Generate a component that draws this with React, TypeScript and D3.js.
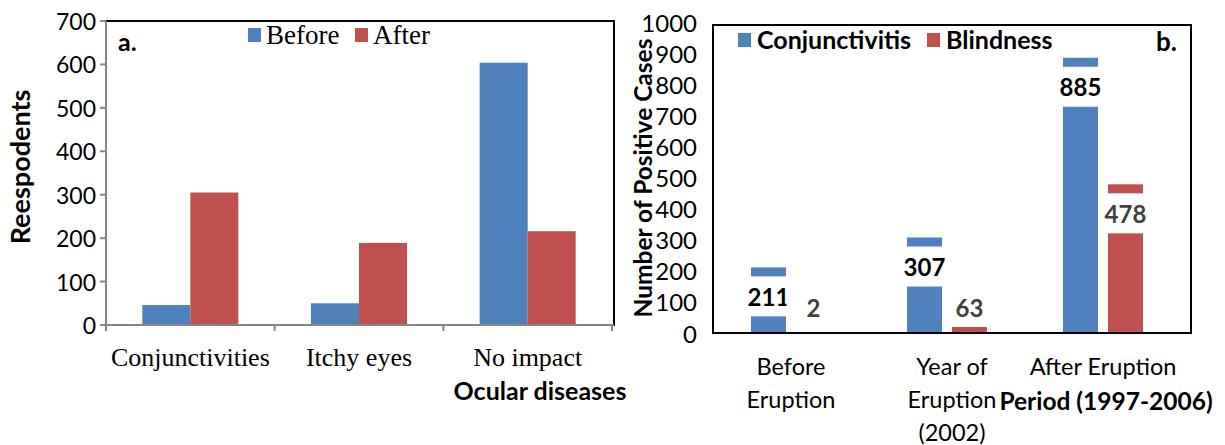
import React from "react";
import * as d3 from "d3";

const diseaseCats = ["Conjunctivities", "Itchy eyes", "No impact"];
const seriesA = ["Before", "After"];
const beforeVals = [46, 50, 604];
const afterVals = [305, 189, 216];
const ticksA = [0, 100, 200, 300, 400, 500, 600, 700];

const periodCats = ["Before Eruption", "Year of Eruption (2002)", "After Eruption"];
const periodLines = [["Before", "Eruption"], ["Year of", "Eruption", "(2002)"], ["After Eruption"]];
const seriesB = ["Conjunctivitis", "Blindness"];
const conjVals = [211, 307, 885];
const blindVals = [2, 63, 478];
const ticksB = [0, 100, 200, 300, 400, 500, 600, 700, 800, 900, 1000];

const BLUE = "#4F81BD";
const RED = "#C0504D";
const SANS = "Lato, 'Noto Sans', sans-serif";
const SERIF = "'Liberation Serif', 'Times New Roman', serif";

export default function App() {
  // Panel a
  const yA = d3.scaleLinear().domain([0, 700]).range([325, 21]);
  const x0A = d3.scaleBand().domain(diseaseCats).range([106, 612]).paddingInner(0).paddingOuter(0);
  const x1A = d3.scaleBand().domain(seriesA).range([0, x0A.bandwidth()]).paddingInner(0).paddingOuter(0.757);
  const valsA: Record<string, number[]> = { Before: beforeVals, After: afterVals };
  const colA: Record<string, string> = { Before: BLUE, After: RED };

  // Panel b
  const yB = d3.scaleLinear().domain([0, 1000]).range([333, 22]);
  const x0B = d3.scaleBand().domain(periodCats).range([713, 1181]).paddingInner(0).paddingOuter(0);
  const x1B = d3.scaleBand().domain(seriesB).range([0, x0B.bandwidth()]).paddingInner(0.222).paddingOuter(0.844);
  const valsB: Record<string, number[]> = { Conjunctivitis: conjVals, Blindness: blindVals };
  const colB: Record<string, string> = { Conjunctivitis: BLUE, Blindness: RED };
  const labCol: Record<string, string> = { Conjunctivitis: "#000", Blindness: "#404040" };

  const boundaries = [...diseaseCats.map((c) => x0A(c)!), 612];

  return (
    <svg width={1225} height={445} style={{ position: "absolute", left: 0, top: 0, background: "#fff" }}>
      <rect x={0} y={0} width={1225} height={445} fill="#fff" />
      {/* ===== Panel a ===== */}
      <line x1={106} y1={21} x2={614} y2={21} stroke="#000" strokeWidth={2} />
      <line x1={614} y1={20} x2={614} y2={326} stroke="#000" strokeWidth={2} />
      {seriesA.map((s) =>
        diseaseCats.map((c, i) => (
          <rect key={s + c} x={x0A(c)! + x1A(s)!} y={yA(valsA[s][i])} width={x1A.bandwidth()}
            height={yA(0) - yA(valsA[s][i])} fill={colA[s]} />
        ))
      )}
      <line x1={106} y1={21} x2={106} y2={326} stroke="#868686" strokeWidth={2} />
      {ticksA.map((t) => (
        <g key={t}>
          <line x1={100} x2={106} y1={yA(t)} y2={yA(t)} stroke="#868686" strokeWidth={2} />
          <text x={96} y={yA(t)} textAnchor="end" dominantBaseline="central" fontFamily={SANS} fontSize={23} fill="#000">{t}</text>
        </g>
      ))}
      <line x1={106} y1={325} x2={614} y2={325} stroke="#868686" strokeWidth={2} />
      {boundaries.map((b, i) => (
        <line key={i} x1={b} x2={b} y1={325} y2={331} stroke="#868686" strokeWidth={2} />
      ))}
      {diseaseCats.map((c) => (
        <text key={c} x={x0A(c)! + x0A.bandwidth() / 2} y={366} textAnchor="middle" fontFamily={SERIF} fontSize={26} fill="#000">{c}</text>
      ))}
      <text x={540} y={400} textAnchor="middle" fontFamily={SANS} fontWeight="bold" fontSize={25} fill="#000">Ocular diseases</text>
      <text transform={`translate(30,167) rotate(-90)`} textAnchor="middle" fontFamily={SANS} fontWeight="bold" fontSize={27} fill="#000">Reespodents</text>
      <text x={118} y={51} fontFamily={SANS} fontWeight="bold" fontSize={25} fill="#000">a.</text>
      <rect x={248} y={28} width={13} height={14} fill={BLUE} />
      <text x={266} y={44} fontFamily={SERIF} fontSize={27} fill="#000">Before</text>
      <rect x={355} y={28} width={13} height={14} fill={RED} />
      <text x={373} y={44} fontFamily={SERIF} fontSize={27} fill="#000">After</text>

      {/* ===== Panel b ===== */}
      {seriesB.map((s) =>
        periodCats.map((c, i) => (
          <rect key={s + c} x={x0B(c)! + x1B(s)!} y={yB(valsB[s][i])} width={x1B.bandwidth()}
            height={yB(0) - yB(valsB[s][i])} fill={colB[s]} />
        ))
      )}
      {seriesB.map((s) =>
        periodCats.map((c, i) => {
          const cx = x0B(c)! + x1B(s)! + x1B.bandwidth() / 2;
          const ly = Math.min(yB(valsB[s][i]) + 29, 307);
          return (
            <g key={"l" + s + c}>
              <rect x={cx - 27} y={ly - 20} width={54} height={40} fill="#fff" />
              <text x={cx} y={ly} textAnchor="middle" dominantBaseline="central" fontFamily={SANS} fontWeight="bold" fontSize={24} fill={labCol[s]}>{valsB[s][i]}</text>
            </g>
          );
        })
      )}
      <rect x={713} y={25} width={478} height={308} fill="none" stroke="#000" strokeWidth={2} />
      {ticksB.map((t) => (
        <text key={t} x={697} y={yB(t)} textAnchor="end" dominantBaseline="central" fontFamily={SANS} fontSize={24} fill="#000">{t}</text>
      ))}
      {periodCats.map((c, i) => (
        <g key={c}>
          {periodLines[i].map((ln, j) => (
            <text key={j} x={x0B(c)! + x0B.bandwidth() / 2 + (i === 1 ? 5 : 0)} y={375 + j * 33} textAnchor="middle" fontFamily={SANS} fontSize={23.5} fill="#000">{ln}</text>
          ))}
        </g>
      ))}
      <text x={1106} y={410} textAnchor="middle" fontFamily={SANS} fontWeight="bold" fontSize={24.5} fill="#000">Period (1997-2006)</text>
      <text transform={`translate(652,178) rotate(-90)`} textAnchor="middle" fontFamily={SANS} fontWeight="bold" fontSize={24.5} fill="#000">Number of Positive Cases</text>
      <rect x={738} y={33} width={13} height={14} fill={BLUE} />
      <text x={757} y={49} fontFamily={SANS} fontWeight="bold" fontSize={25} fill="#000">Conjunctivitis</text>
      <rect x={927} y={33} width={13} height={14} fill={RED} />
      <text x={946} y={49} fontFamily={SANS} fontWeight="bold" fontSize={25} fill="#000">Blindness</text>
      <text x={1156} y={51} fontFamily={SANS} fontWeight="bold" fontSize={26} fill="#000">b.</text>
    </svg>
  );
}
